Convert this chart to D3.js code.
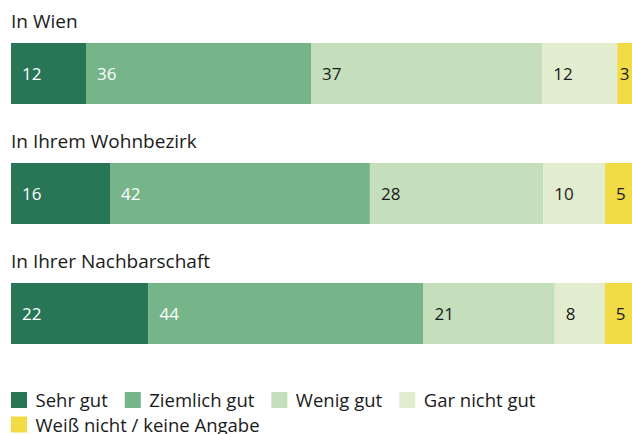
<!DOCTYPE html>
<html>
<head>
<meta charset="utf-8">
<script src="https://cdn.jsdelivr.net/npm/d3@7"></script>
<style>
  html, body { margin: 0; padding: 0; background: #fff; overflow: hidden; }
  svg { display: block; }
  text { font-family: "Open Sans", Lato, sans-serif; }
</style>
</head>
<body>
<svg id="chart" width="632" height="434"></svg>
<script>
// Survey rows and answer categories
const rows = ["In Wien", "In Ihrem Wohnbezirk", "In Ihrer Nachbarschaft"];
const categories = ["Sehr gut", "Ziemlich gut", "Wenig gut", "Gar nicht gut", "Weiß nicht / keine Angabe"];
const sehrGut      = [12, 16, 22];
const ziemlichGut  = [36, 42, 44];
const wenigGut     = [37, 28, 21];
const garNichtGut  = [12, 10, 8];
const weissNicht   = [3, 5, 5];
const colors = ["#297657", "#76b48a", "#c5dfbd", "#e2edd0", "#f1dc45"];
const labelColors = ["#ffffff", "#ffffff", "#1a1a1a", "#1a1a1a", "#1a1a1a"];

const W = 632;
const series = [sehrGut, ziemlichGut, wenigGut, garNichtGut, weissNicht];
const table = rows.map((r, i) => {
  const o = { row: r };
  categories.forEach((c, j) => o[c] = series[j][i]);
  return o;
});

const svg = d3.select("#chart");

// Each bar is normalised to its own total
const stacked = d3.stack().keys(categories).offset(d3.stackOffsetExpand)(table);

const x = d3.scaleLinear().domain([0, 1]).range([11, 636]);
const y = d3.scalePoint().domain(rows).range([43, 283]);
const barH = 61;

// Row titles
svg.selectAll("text.title")
  .data(rows)
  .join("text")
  .attr("class", "title")
  .attr("x", 11)
  .attr("y", d => y(d) - 15)
  .attr("font-size", 19)
  .attr("fill", "#1a1a1a")
  .text(d => d);

const groups = svg.selectAll("g.layer")
  .data(stacked)
  .join("g")
  .attr("class", "layer");

groups.each(function(layer, j) {
  const g = d3.select(this);
  g.selectAll("rect")
    .data(layer)
    .join("rect")
    .attr("x", d => x(d[0]))
    .attr("width", d => x(d[1]) - x(d[0]))
    .attr("y", d => y(d.data.row))
    .attr("height", barH)
    .attr("fill", colors[j]);

  g.selectAll("text")
    .data(layer)
    .join("text")
    .attr("y", d => y(d.data.row) + barH / 2)
    .attr("dy", "0.36em")
    .attr("font-size", 17)
    .attr("fill", labelColors[j])
    .text(d => d.data[categories[j]])
    .attr("x", function(d) {
      // inset from the segment start; centre in the visible part when it would not fit
      const tw = this.getComputedTextLength();
      const x0 = x(d[0]), x1 = Math.min(x(d[1]), W);
      return (x0 + 11 + tw <= x1) ? x0 + 11 : x0 + (x1 - x0 - tw) / 2;
    });
});

// Legend, flowing left to right and wrapping
const legend = svg.append("g");
let lx = 11, ly = 392;
categories.forEach((c, j) => {
  const g = legend.append("g");
  const t = g.append("text")
    .attr("x", 24.5)
    .attr("y", 15)
    .attr("font-size", 18.5)
    .attr("fill", "#1a1a1a")
    .text(c);
  const w = 24.5 + t.node().getComputedTextLength();
  if (lx + w > W) { lx = 11; ly += 24.5; }
  g.attr("transform", `translate(${lx},${ly})`);
  g.insert("rect", "text")
    .attr("width", 16).attr("height", 16)
    .attr("fill", colors[j]);
  lx += w + 17;
});
</script>
</body>
</html>
